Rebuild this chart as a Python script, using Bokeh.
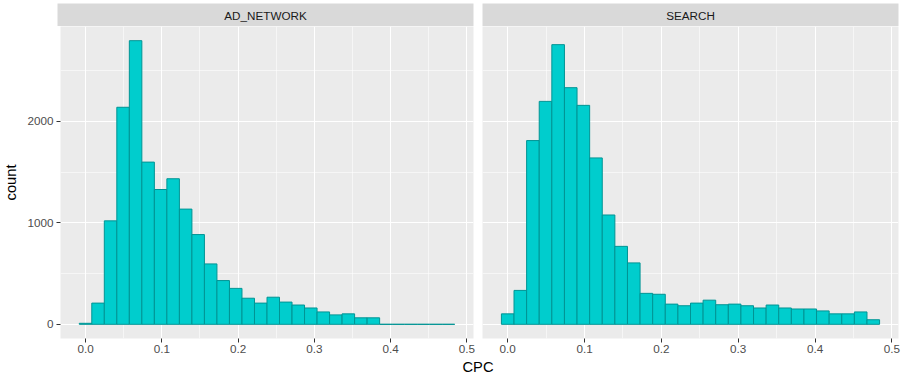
import numpy as np
from bokeh.plotting import figure
from bokeh.models import Range1d, FixedTicker, Label, ColumnDataSource, PrintfTickFormatter
from bokeh.layouts import column, row
from bokeh.embed import file_html
from bokeh.resources import INLINE

# ---------------- data ----------------
panels = ["AD_NETWORK", "SEARCH"]
bin_width = 0.016407          # histogram bin width (30 bins, first centred on 0)
n_bins = 30
ad_network_counts = [10, 209, 1019, 2138, 2794, 1598, 1328, 1434, 1135, 884,
                     595, 431, 354, 257, 209, 267, 219, 190, 161, 122,
                     93, 103, 64, 64, 0, 0, 0, 0, 0, 0]
search_counts = [103, 334, 1810, 2196, 2755, 2331, 2157, 1639, 1077, 768,
                 605, 305, 296, 199, 183, 209, 238, 193, 199, 183,
                 161, 190, 161, 151, 151, 132, 103, 103, 122, 45]
x_ticks = [0.0, 0.1, 0.2, 0.3, 0.4, 0.5]
x_minor = [0.05, 0.15, 0.25, 0.35, 0.45]
y_ticks = [0, 1000, 2000]
y_minor = [500, 1500, 2500]
x_label = "CPC"
y_label = "count"

# ---------------- style ----------------
FONT = "Liberation Sans"
FILL = "#00CDCD"
EDGE = "#009494"
PANEL_BG = "#EBEBEB"
STRIP_BG = "#D9D9D9"

centers = np.arange(n_bins) * bin_width
lefts = centers - bin_width / 2
rights = centers + bin_width / 2
xmin, xmax = lefts[0], rights[-1]
xpad = (xmax - xmin) * 0.05
x_range = Range1d(xmin - xpad, xmax + xpad)
ymax = max(max(ad_network_counts), max(search_counts))
y_range = Range1d(-0.05 * ymax, 1.05 * ymax)

FRAME_W = 416
LEFT_B = 57
GAP_L = 5
GAP_R = 4
RIGHT_B = 3
STRIP_TOP = 3
STRIP_H = 26
MAIN_H = 332
BOTTOM_B = 20
CPC_H = 17


def make_strip(text, width, mbl, mbr):
    s = figure(width=width, height=STRIP_H, x_range=Range1d(0, 1), y_range=Range1d(0, 1),
               x_axis_location=None, y_axis_location=None, toolbar_location=None,
               output_backend="svg", min_border_left=mbl, min_border_right=mbr,
               min_border_top=STRIP_TOP, min_border_bottom=0)
    s.background_fill_color = STRIP_BG
    s.border_fill_color = "white"
    s.outline_line_color = None
    s.grid.visible = False
    s.add_layout(Label(x=0.5, y=0.5, text=text, text_align="center", text_baseline="middle",
                       text_font=FONT, text_font_size="11.7px", text_color="#1A1A1A"))
    return s


def make_panel(counts, width, mbl, mbr, show_y):
    p = figure(width=width, height=MAIN_H, x_range=x_range, y_range=y_range,
               y_axis_location="left" if show_y else None,
               toolbar_location=None, output_backend="svg",
               min_border_left=mbl, min_border_right=mbr, min_border_top=0,
               min_border_bottom=BOTTOM_B)
    p.background_fill_color = PANEL_BG
    p.border_fill_color = "white"
    p.outline_line_color = None

    p.xgrid.ticker = FixedTicker(ticks=x_ticks, minor_ticks=x_minor)
    p.ygrid.ticker = FixedTicker(ticks=y_ticks, minor_ticks=y_minor)
    for g in (p.xgrid, p.ygrid):
        g.grid_line_color = "white"
        g.grid_line_width = 1.1
        g.minor_grid_line_color = "white"
        g.minor_grid_line_width = 0.55

    src = ColumnDataSource(dict(left=lefts, right=rights, top=counts, bottom=[0] * len(counts)))
    p.quad(left="left", right="right", top="top", bottom="bottom", source=src,
           fill_color=FILL, line_color=EDGE, line_width=1)

    axes = [p.xaxis[0]] + ([p.yaxis[0]] if show_y else [])
    for ax in axes:
        ax.axis_line_color = None
        ax.major_tick_line_color = "#333333"
        ax.major_tick_in = 0
        ax.major_tick_out = 4
        ax.minor_tick_line_color = None
        ax.major_label_text_font = FONT
        ax.major_label_text_font_size = "11.7px"
        ax.major_label_text_color = "#4D4D4D"
        ax.major_label_standoff = 2
    p.xaxis.ticker = FixedTicker(ticks=x_ticks)
    p.xaxis.formatter = PrintfTickFormatter(format="%.1f")
    if show_y:
        p.yaxis.ticker = FixedTicker(ticks=y_ticks)
        p.yaxis.major_label_standoff = 3
        p.yaxis.axis_label = y_label
        p.yaxis.axis_label_text_font = FONT
        p.yaxis.axis_label_text_font_size = "14.7px"
        p.yaxis.axis_label_text_font_style = "normal"
        p.yaxis.axis_label_text_color = "black"
        p.yaxis.axis_label_standoff = 5
    return p


wl = LEFT_B + FRAME_W + GAP_L
wr = GAP_R + FRAME_W + RIGHT_B

strip_l = make_strip(panels[0], wl, LEFT_B, GAP_L)
strip_r = make_strip(panels[1], wr, GAP_R, RIGHT_B)
main_l = make_panel(ad_network_counts, wl, LEFT_B, GAP_L, True)
main_r = make_panel(search_counts, wr, GAP_R, RIGHT_B, False)

cpc = figure(width=wl + wr, height=CPC_H, x_range=Range1d(0, 1), y_range=Range1d(0, 1),
             x_axis_location=None, y_axis_location=None, toolbar_location=None,
             output_backend="svg", min_border_left=0, min_border_right=0,
             min_border_top=0, min_border_bottom=0)
cpc.outline_line_color = None
cpc.background_fill_color = "white"
cpc.border_fill_color = "white"
cpc.grid.visible = False
cpc_center = (LEFT_B + wl + wr - RIGHT_B) / 2
cpc.add_layout(Label(x=cpc_center, y=CPC_H / 2, x_units="screen", y_units="screen", text=x_label,
                     text_align="center", text_baseline="middle", text_font=FONT,
                     text_font_size="14.7px", text_color="black"))

layout = column(row(strip_l, strip_r), row(main_l, main_r), cpc)

open("out.html", "w").write(file_html(layout, INLINE))
